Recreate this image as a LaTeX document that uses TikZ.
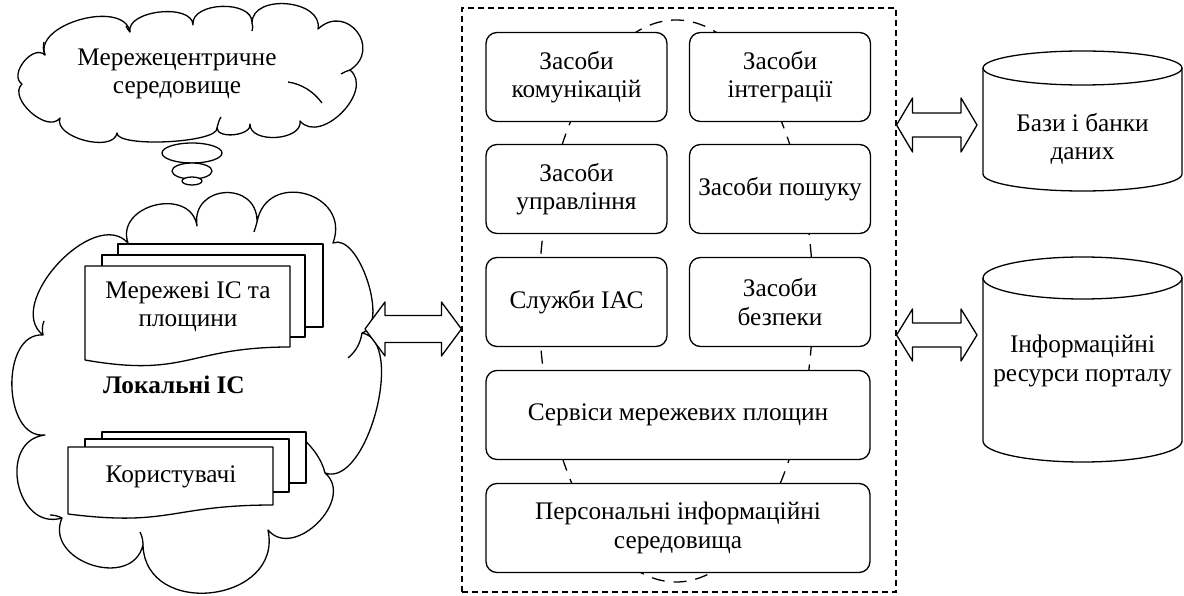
\documentclass[tikz,border=0pt]{standalone}
\usepackage{fontspec}
\setmainfont{Liberation Serif}
\usetikzlibrary{calc}
\newcommand\blockarrow[5]{%
  \draw[ln, fill=white] (#1) -- ($(#1)+(#3,-#4)$) -- ($(#1)+(#3,-#5)$) -- ($(#2)+(-#3,-#5)$) -- ($(#2)+(-#3,-#4)$) -- (#2) -- ($(#2)+(-#3,#4)$) -- ($(#2)+(-#3,#5)$) -- ($(#1)+(#3,#5)$) -- ($(#1)+(#3,#4)$) -- cycle;}
\begin{document}
\begin{tikzpicture}[x=1pt,y=-1pt,
  every node/.style={font=\fontsize{25.3}{28.5}\selectfont, align=center, inner sep=0pt},
  ln/.style={line width=1.3pt, line join=round},
  box/.style={ln, draw, fill=white, rounded corners=11pt, minimum width=181pt, minimum height=89pt},
  widebox/.style={box, minimum width=384pt},
  doc/.style={ln, draw, fill=white},
  framebox/.style={line width=1.1pt, draw, dash pattern=on 6pt off 4pt, minimum width=434pt, minimum height=584pt},
  ring/.style={line width=1.3pt, dash pattern=on 13pt off 9pt},
  bump/.style={to path={.. controls ($(\tikztostart)!#1!95:(\tikztotarget)$) and ($(\tikztotarget)!#1!-95:(\tikztostart)$) .. (\tikztotarget)}}
]
\useasboundingbox (0,0) rectangle (1184,596);

% ---------- small cloud ----------
\draw[ln, fill=white] (45,55) to[bump=0.38] (130,32) to[bump=0.35] (193,25) to[bump=0.4] (252,23)
  to[bump=0.45] (318,29) to[bump=0.75] (350,70) to[bump=0.45] (300,121) to[bump=0.4] (250,124)
  to[bump=0.35] (217,128) to[bump=0.15] (117,133) to[bump=0.35] (60,118)
  to[bump=0.4] (22,84) to[bump=0.45] (45,55) -- cycle;
\draw[ln] (45,55) .. controls (43,50) and (43,46) .. (44,42);
\draw[ln] (130,32) .. controls (128,30) and (127,28) .. (126,26);
\draw[ln] (252,23) .. controls (253,26) and (253,28) .. (252,31);
\draw[ln] (350,70) .. controls (347,71) and (344,72) .. (341,74);
\draw[ln] (288,82) .. controls (302,84) and (314,92) .. (322,103);
\draw[ln] (217,128) .. controls (218,124) and (219,120) .. (221,117);
\node (net) at (177,74) {Мережецентричне\\середовище};

% thought bubbles
\draw[ln, fill=white] (192,153) ellipse[x radius=30pt, y radius=10pt];
\draw[ln, fill=white] (192,171) ellipse[x radius=20pt, y radius=8pt];
\draw[ln, fill=white] (192,181) ellipse[x radius=10pt, y radius=4pt];

% ---------- big cloud ----------
\draw[ln, fill=white] (43,335) to[bump=0.4] (128,243) to[bump=0.57] (197,226) to[bump=0.7] (257,222)
  to[bump=0.68] (333,243) to[bump=0.3] (362,333) to[bump=0.31] (325,473) to[bump=0.5] (268,530)
  to[bump=0.59] (143,545) to[bump=0.55] (62,518) to[bump=0.57] (45,435) to[bump=0.43] (43,335) -- cycle;
\draw[ln] (43,335) .. controls (42,330) and (42,326) .. (44,321);
\draw[ln] (362,333) .. controls (360,345) and (355,352) .. (348,358);
\draw[ln] (257,222) .. controls (256,226) and (255,229) .. (254,232);
\draw[ln] (325,473) .. controls (322,460) and (312,445) .. (297,434);
\draw[ln] (143,545) .. controls (143,540) and (142,536) .. (140,532);
\draw[ln] (62,518) .. controls (58,516) and (54,515) .. (50,515);

% document stack 1
\draw[doc] (118,244) rectangle (323,327);
\draw[doc] (102,255) rectangle (305,337);
\draw[doc] (85,266) -- (290,266) -- (290,347) .. controls (187.5,347) and (187.5,378) .. (85,360) -- cycle;
\node (netis) at (188,307) {Мережеві ІС та\\площини};

\node[font=\fontsize{25.3}{28.5}\selectfont\bfseries] (loc) at (174,385) {Локальні ІС};

% document stack 2
\draw[doc] (102,432) rectangle (306,483);
\draw[doc] (85,439) rectangle (289,492);
\draw[doc] (68,447) -- (273,447) -- (273,505) .. controls (170.5,505) and (170.5,527) .. (68,514) -- cycle;
\node (users) at (171,477) {Користувачі};

% ---------- central frame ----------
\node[framebox] (frame) at (679,300) {};
\draw[ring] (676,301) ellipse[x radius=137pt, y radius=281pt];

\node[box] (comm) at (576.5,77) {Засоби\\комунікацій};
\node[box] (integ) at (780,77) {Засоби\\інтеграції};
\node[box] (mgmt) at (576.5,189) {Засоби\\управління};
\node[box] (search) at (780,189) {Засоби пошуку};
\node[box] (iac) at (576.5,302) {Служби ІАС};
\node[box] (secur) at (780,302) {Засоби\\безпеки};
\node[widebox] (serv) at (678,415) {Сервіси мережевих площин};
\node[widebox] (pers) at (678,528) {Персональні інформаційні\\середовища};

% ---------- cylinders ----------
\draw[ln, fill=white] (983,68) -- (983,174) arc[start angle=180, end angle=360, x radius=99.5pt, y radius=17pt] -- (1182,68);
\draw[ln] (1082.5,68) ellipse[x radius=99.5pt, y radius=17pt];
\node (db1) at (1082.5,139) {Бази і банки\\даних};

\draw[ln, fill=white] (983,278) -- (983,441) arc[start angle=180, end angle=360, x radius=99.5pt, y radius=21pt] -- (1182,278);
\draw[ln] (1082.5,278) ellipse[x radius=99.5pt, y radius=21pt];
\node (db2) at (1082.5,361) {Інформаційні\\ресурси порталу};

% ---------- block arrows ----------
\coordinate (la) at (365,329);
\coordinate (lb) at (frame.west |- la);
\blockarrow{la}{lb}{20}{27}{13.5}
\coordinate (rb) at (977,125);
\coordinate (ra) at (frame.east |- rb);
\blockarrow{ra}{rb}{16}{27}{12}
\coordinate (sb) at (977,335);
\coordinate (sa) at (frame.east |- sb);
\blockarrow{sa}{sb}{16}{26}{12}
\end{tikzpicture}
\end{document}
